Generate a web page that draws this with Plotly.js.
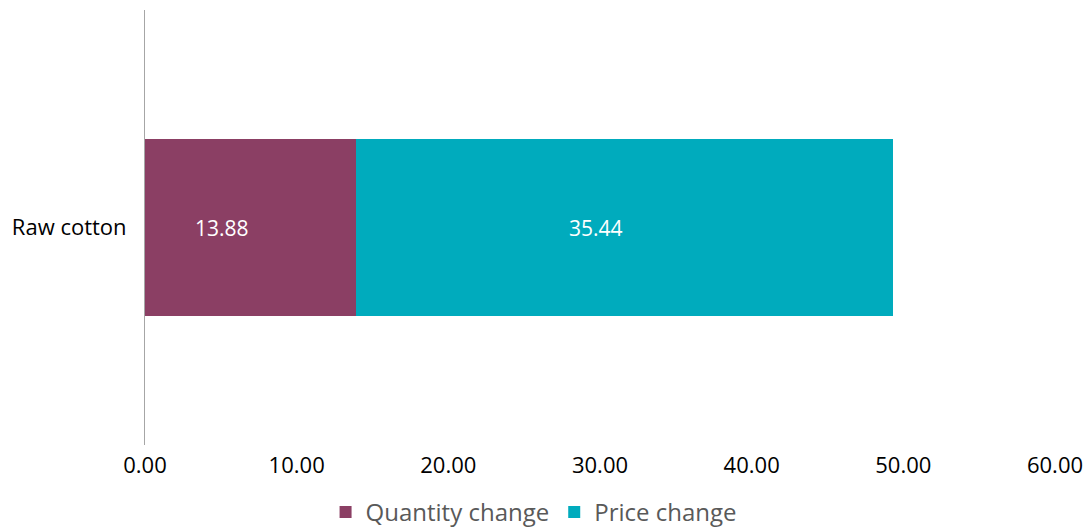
<!DOCTYPE html>
<html><head><meta charset="utf-8">
<script src="https://cdn.plot.ly/plotly-3.0.1.min.js"></script>
<style>html,body{margin:0;padding:0;background:#fff}#chart{width:1092px;height:531px}</style>
</head><body><div id="chart"></div>
<script>
const categories = ["Raw cotton"];
const quantityChange = [13.88];
const priceChange = [35.44];
const seriesNames = ["Quantity change", "Price change"];
const tickVals = [0, 10, 20, 30, 40, 50, 60];
const tickText = ["0.00", "10.00", "20.00", "30.00", "40.00", "50.00", "60.00"];

const font = "'Open Sans', Lato, sans-serif";
const colors = ['#8B3F64', '#00ABBD'];
const mk = (name, vals, color) => ({
  type: 'bar', orientation: 'h', name: name, x: vals, y: categories,
  marker: {color: color}, width: 0.405, textposition: 'none', hoverinfo: 'x+name'
});
const data = [mk(seriesNames[0], quantityChange, colors[0]), mk(seriesNames[1], priceChange, colors[1])];

const annotations = [];
[quantityChange, priceChange].forEach((vals, s) => {
  vals.forEach((v, i) => {
    const start = s === 0 ? 0 : quantityChange[i];
    annotations.push({x: start + v / 2, y: categories[i], xref: 'x', yref: 'y',
      text: v.toFixed(2), showarrow: false, xshift: -28,
      font: {color: '#ffffff', size: 21, family: font}});
  });
});

const layout = {
  width: 1092, height: 531, barmode: 'stack',
  margin: {l: 145, r: 37, t: 10, b: 86, autoexpand: false},
  paper_bgcolor: '#fff', plot_bgcolor: '#fff',
  font: {family: font, color: '#000', size: 21},
  xaxis: {range: [0, 60], tickvals: tickVals, ticktext: tickText, showgrid: false, zeroline: false,
          showline: false, ticks: '', tickfont: {size: 22, color: '#000'}, ticklabelstandoff: 5, automargin: false},
  yaxis: {showline: true, linecolor: '#a6a6a6', linewidth: 1, showgrid: false, ticks: '', automargin: false,
          tickfont: {size: 22, color: '#000'}, ticklabelstandoff: 13, range: [-0.5, 0.5]},
  showlegend: true,
  legend: {orientation: 'h', x: 0.427, xanchor: 'center', y: -0.155, yanchor: 'middle',
           font: {size: 24, color: '#595959', family: font}, traceorder: 'normal', itemwidth: 30},
  annotations: annotations,
  bargap: 0
};
Plotly.newPlot('chart', data, layout, {displayModeBar: false, staticPlot: true});
</script></body></html>
